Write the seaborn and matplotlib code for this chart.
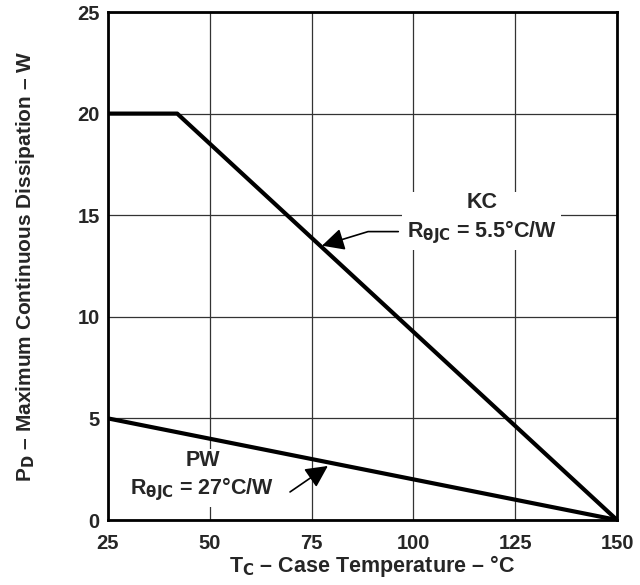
import matplotlib
matplotlib.use("Agg")
import matplotlib.pyplot as plt
import seaborn as sns
import pandas as pd

# Data
kc_temp = [25, 42, 150]
kc_power = [20, 20, 0]
pw_temp = [25, 150]
pw_power = [5, 0]
x_ticks = [25, 50, 75, 100, 125, 150]
y_ticks = [0, 5, 10, 15, 20, 25]

sns.set_style("white")
plt.rcParams['font.family'] = ['Liberation Sans', 'DejaVu Sans']
plt.rcParams['font.weight'] = 'bold'
plt.rcParams['mathtext.fontset'] = 'custom'
plt.rcParams['mathtext.rm'] = 'Liberation Sans:bold'
plt.rcParams['mathtext.bf'] = 'Liberation Sans:bold'
plt.rcParams['mathtext.it'] = 'DejaVu Sans'

fig = plt.figure(figsize=(6.4, 5.85), dpi=100)
ax = fig.add_axes([108/640, 1-520/585, (617-108)/640, (520-12)/585])

df_kc = pd.DataFrame({"T": kc_temp, "P": kc_power})
df_pw = pd.DataFrame({"T": pw_temp, "P": pw_power})
sns.lineplot(data=df_kc, x="T", y="P", ax=ax, color="black", lw=3, zorder=4)
sns.lineplot(data=df_pw, x="T", y="P", ax=ax, color="black", lw=3, zorder=4)

ax.set_xlim(25, 150)
ax.set_ylim(0, 25)
ax.set_xticks(x_ticks)
ax.set_yticks(y_ticks)
ax.grid(True, color="#333333", lw=0.9)
ax.tick_params(axis='both', length=0, labelsize=14.5)
ax.tick_params(axis='x', pad=10)
ax.tick_params(axis='y', pad=6)
for lab in ax.get_xticklabels() + ax.get_yticklabels():
    lab.set_fontweight('bold')
for sp in ax.spines.values():
    sp.set_linewidth(2)
    sp.set_color("black")
    sp.set_zorder(5)

ax.set_xlabel("T$_C$ – Case Temperature – °C", fontsize=15.5, fontweight='bold', labelpad=0)
ax.xaxis.set_label_coords(0.519, -0.064)
ax.set_ylabel("P$_D$ – Maximum Continuous Dissipation – W", fontsize=15, fontweight='bold', labelpad=29)

arrow_kw = dict(arrowstyle='-|>,head_length=0.9,head_width=0.45', color='black',
                lw=1.2, mutation_scale=15, shrinkA=3, shrinkB=0)
bbox_kw = dict(boxstyle='square,pad=0.2', fc='white', ec='none')

# KC annotation (label block with leader arrow)
ax.annotate("KC\n" + r"R$_{\theta JC}$ = 5.5°C/W", xy=(77.55, 13.5), xytext=(116.8, 14.8),
            ha='center', va='center', ma='center', linespacing=1.25,
            fontsize=15.5, fontweight='bold', bbox=bbox_kw, zorder=3,
            arrowprops=dict(connectionstyle="angle,angleA=0,angleB=17,rad=0",
                            relpos=(0, 0.27), **arrow_kw))

# PW annotation
ax.text(48.2, 2.15, "PW\n" + r"R$_{\theta JC}$ = 27°C/W", ha='center', va='center', ma='center',
        linespacing=1.25, fontsize=15.5, fontweight='bold', bbox=bbox_kw, zorder=3)
ax.annotate("", xy=(79.0, 2.66), xytext=(69.7, 1.38),
            arrowprops=dict(connectionstyle="arc3", **dict(arrow_kw, shrinkA=0)))

fig.savefig("out.png", dpi=100)
